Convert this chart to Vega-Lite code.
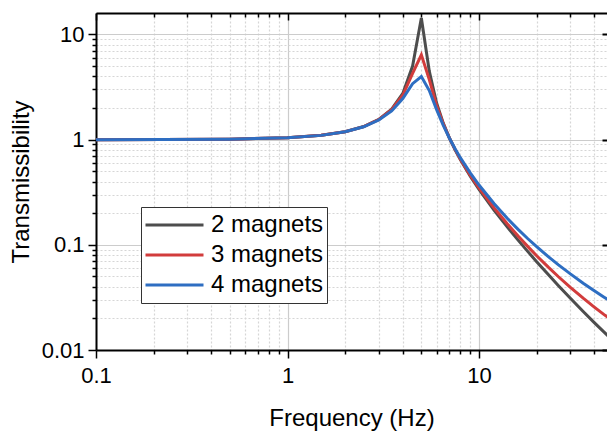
{
  "$schema": "https://vega.github.io/schema/vega-lite/v6.json",
  "width": 511,
  "height": 337,
  "autosize": {"type": "none"},
  "padding": {"left": 96, "top": 13, "right": 0, "bottom": 82},
  "background": "white",
  "config": {"view": {"stroke": null}, "font": "Liberation Sans"},
  "datasets": {
    "curves": [
      {"f": 0.1, "series": "2 magnets", "T": 1.0},
      {"f": 0.5, "series": "2 magnets", "T": 1.010},
      {"f": 1, "series": "2 magnets", "T": 1.042},
      {"f": 1.5, "series": "2 magnets", "T": 1.099},
      {"f": 2, "series": "2 magnets", "T": 1.190},
      {"f": 2.5, "series": "2 magnets", "T": 1.333},
      {"f": 3, "series": "2 magnets", "T": 1.561},
      {"f": 3.5, "series": "2 magnets", "T": 1.954},
      {"f": 4, "series": "2 magnets", "T": 2.749},
      {"f": 4.5, "series": "2 magnets", "T": 5.006},
      {"f": 5, "series": "2 magnets", "T": 14.32},
      {"f": 5.5, "series": "2 magnets", "T": 4.484},
      {"f": 6, "series": "2 magnets", "T": 2.240},
      {"f": 6.5, "series": "2 magnets", "T": 1.443},
      {"f": 7, "series": "2 magnets", "T": 1.041},
      {"f": 7.5, "series": "2 magnets", "T": 0.8016},
      {"f": 8, "series": "2 magnets", "T": 0.6434},
      {"f": 9, "series": "2 magnets", "T": 0.4492},
      {"f": 10, "series": "2 magnets", "T": 0.3362},
      {"f": 12, "series": "2 magnets", "T": 0.2129},
      {"f": 14, "series": "2 magnets", "T": 0.1489},
      {"f": 16, "series": "2 magnets", "T": 0.1109},
      {"f": 18, "series": "2 magnets", "T": 0.0862},
      {"f": 20, "series": "2 magnets", "T": 0.0692},
      {"f": 23, "series": "2 magnets", "T": 0.0521},
      {"f": 26, "series": "2 magnets", "T": 0.0409},
      {"f": 30, "series": "2 magnets", "T": 0.0310},
      {"f": 35, "series": "2 magnets", "T": 0.0232},
      {"f": 40, "series": "2 magnets", "T": 0.0182},
      {"f": 45, "series": "2 magnets", "T": 0.0148},
      {"f": 50, "series": "2 magnets", "T": 0.0123},
      {"f": 0.1, "series": "3 magnets", "T": 1.0},
      {"f": 0.5, "series": "3 magnets", "T": 1.010},
      {"f": 1, "series": "3 magnets", "T": 1.042},
      {"f": 1.5, "series": "3 magnets", "T": 1.099},
      {"f": 2, "series": "3 magnets", "T": 1.190},
      {"f": 2.5, "series": "3 magnets", "T": 1.330},
      {"f": 3, "series": "3 magnets", "T": 1.553},
      {"f": 3.5, "series": "3 magnets", "T": 1.928},
      {"f": 4, "series": "3 magnets", "T": 2.642},
      {"f": 4.5, "series": "3 magnets", "T": 4.256},
      {"f": 5, "series": "3 magnets", "T": 6.408},
      {"f": 5.5, "series": "3 magnets", "T": 3.723},
      {"f": 6, "series": "3 magnets", "T": 2.124},
      {"f": 6.5, "series": "3 magnets", "T": 1.418},
      {"f": 7, "series": "3 magnets", "T": 1.040},
      {"f": 7.5, "series": "3 magnets", "T": 0.8078},
      {"f": 8, "series": "3 magnets", "T": 0.6527},
      {"f": 9, "series": "3 magnets", "T": 0.4604},
      {"f": 10, "series": "3 magnets", "T": 0.3477},
      {"f": 12, "series": "3 magnets", "T": 0.2240},
      {"f": 14, "series": "3 magnets", "T": 0.1595},
      {"f": 16, "series": "3 magnets", "T": 0.1211},
      {"f": 18, "series": "3 magnets", "T": 0.0961},
      {"f": 20, "series": "3 magnets", "T": 0.0788},
      {"f": 23, "series": "3 magnets", "T": 0.0613},
      {"f": 26, "series": "3 magnets", "T": 0.0497},
      {"f": 30, "series": "3 magnets", "T": 0.0394},
      {"f": 35, "series": "3 magnets", "T": 0.0311},
      {"f": 40, "series": "3 magnets", "T": 0.0256},
      {"f": 45, "series": "3 magnets", "T": 0.0217},
      {"f": 50, "series": "3 magnets", "T": 0.0189},
      {"f": 0.1, "series": "4 magnets", "T": 1.0},
      {"f": 0.5, "series": "4 magnets", "T": 1.010},
      {"f": 1, "series": "4 magnets", "T": 1.042},
      {"f": 1.5, "series": "4 magnets", "T": 1.098},
      {"f": 2, "series": "4 magnets", "T": 1.188},
      {"f": 2.5, "series": "4 magnets", "T": 1.325},
      {"f": 3, "series": "4 magnets", "T": 1.536},
      {"f": 3.5, "series": "4 magnets", "T": 1.877},
      {"f": 4, "series": "4 magnets", "T": 2.457},
      {"f": 4.5, "series": "4 magnets", "T": 3.407},
      {"f": 5, "series": "4 magnets", "T": 3.974},
      {"f": 5.5, "series": "4 magnets", "T": 2.931},
      {"f": 6, "series": "4 magnets", "T": 1.942},
      {"f": 6.5, "series": "4 magnets", "T": 1.374},
      {"f": 7, "series": "4 magnets", "T": 1.037},
      {"f": 7.5, "series": "4 magnets", "T": 0.8197},
      {"f": 8, "series": "4 magnets", "T": 0.6708},
      {"f": 9, "series": "4 magnets", "T": 0.4825},
      {"f": 10, "series": "4 magnets", "T": 0.3702},
      {"f": 12, "series": "4 magnets", "T": 0.2455},
      {"f": 14, "series": "4 magnets", "T": 0.1798},
      {"f": 16, "series": "4 magnets", "T": 0.1402},
      {"f": 18, "series": "4 magnets", "T": 0.1142},
      {"f": 20, "series": "4 magnets", "T": 0.0960},
      {"f": 23, "series": "4 magnets", "T": 0.0772},
      {"f": 26, "series": "4 magnets", "T": 0.0645},
      {"f": 30, "series": "4 magnets", "T": 0.0529},
      {"f": 35, "series": "4 magnets", "T": 0.0432},
      {"f": 40, "series": "4 magnets", "T": 0.0366},
      {"f": 45, "series": "4 magnets", "T": 0.0318},
      {"f": 50, "series": "4 magnets", "T": 0.0281}
    ]
  },
  "data": {"name": "curves"},
  "resolve": {"axis": {"x": "independent", "y": "independent"}},
  "layer": [
    {
      "mark": {"type": "line", "strokeWidth": 3, "clip": true},
      "encoding": {
        "x": {
          "field": "f", "type": "quantitative",
          "scale": {"type": "log", "domain": [0.1, 46.6], "nice": false},
          "axis": {
            "orient": "bottom",
            "title": "Frequency (Hz)",
            "titleFont": "Liberation Sans", "titleFontSize": 24, "titleFontWeight": "normal", "titleColor": "black", "titlePadding": 20,
            "values": [0.1,0.2,0.3,0.4,0.5,0.6,0.7,0.8,0.9,1,2,3,4,5,6,7,8,9,10,20,30,40],
            "labelExpr": "abs(log(datum.value)/LN10 - round(log(datum.value)/LN10)) < 0.000001 ? format(datum.value, '~g') : ''",
            "labelFont": "Liberation Sans", "labelFontSize": 22, "labelColor": "black", "labelOverlap": false, "labelBound": false, "labelFlush": false, "labelPadding": 7,
            "domainColor": "black", "domainWidth": 2,
            "tickColor": "black", "tickWidth": 1.5,
            "tickSize": {"condition": {"test": "abs(log(datum.value)/LN10 - round(log(datum.value)/LN10)) < 0.000001", "value": 8}, "value": 4},
            "grid": true,
            "gridColor": {"condition": {"test": "abs(log(datum.value)/LN10 - round(log(datum.value)/LN10)) < 0.000001", "value": "#cccccc"}, "value": "#d6d6d6"},
            "gridDash": {"condition": {"test": "abs(log(datum.value)/LN10 - round(log(datum.value)/LN10)) < 0.000001", "value": []}, "value": [2, 2]},
            "gridWidth": 1.2
          }
        },
        "y": {
          "field": "T", "type": "quantitative",
          "scale": {"type": "log", "domain": [0.01, 16], "nice": false},
          "axis": {
            "orient": "left",
            "title": "Transmissibility",
            "titleFont": "Liberation Sans", "titleFontSize": 24, "titleFontWeight": "normal", "titleColor": "black", "titlePadding": 8,
            "values": [0.01,0.02,0.03,0.04,0.05,0.06,0.07,0.08,0.09,0.1,0.2,0.3,0.4,0.5,0.6,0.7,0.8,0.9,1,2,3,4,5,6,7,8,9,10],
            "labelExpr": "abs(log(datum.value)/LN10 - round(log(datum.value)/LN10)) < 0.000001 ? format(datum.value, '~g') : ''",
            "labelFont": "Liberation Sans", "labelFontSize": 22, "labelColor": "black", "labelOverlap": false, "labelBound": false, "labelFlush": false, "labelPadding": 4,
            "domainColor": "black", "domainWidth": 2,
            "tickColor": "black", "tickWidth": 1.5,
            "tickSize": {"condition": {"test": "abs(log(datum.value)/LN10 - round(log(datum.value)/LN10)) < 0.000001", "value": 8}, "value": 4},
            "grid": true,
            "gridColor": {"condition": {"test": "abs(log(datum.value)/LN10 - round(log(datum.value)/LN10)) < 0.000001", "value": "#cccccc"}, "value": "#d6d6d6"},
            "gridDash": {"condition": {"test": "abs(log(datum.value)/LN10 - round(log(datum.value)/LN10)) < 0.000001", "value": []}, "value": [2, 2]},
            "gridWidth": 1.2
          }
        },
        "color": {
          "field": "series", "type": "nominal",
          "scale": {"domain": ["2 magnets", "3 magnets", "4 magnets"], "range": ["#4d4d4d", "#d23c3c", "#2e6ec2"]},
          "legend": {
            "orient": "none", "legendX": 45, "legendY": 194,
            "title": null,
            "symbolType": "stroke", "symbolSize": 3364, "symbolStrokeWidth": 3,
            "clipHeight": 30,
            "labelFont": "Liberation Sans", "labelFontSize": 24, "labelColor": "black", "labelOffset": 6,
            "strokeColor": "#333333", "fillColor": "white", "padding": 3, "rowPadding": 0
          }
        }
      }
    },
    {
      "mark": {"type": "line", "strokeOpacity": 0, "clip": true},
      "encoding": {
        "x": {
          "field": "f", "type": "quantitative",
          "axis": {
            "orient": "top", "title": null, "labels": false, "grid": false,
            "values": [0.1,0.2,0.3,0.4,0.5,0.6,0.7,0.8,0.9,1,2,3,4,5,6,7,8,9,10,20,30,40],
            "domainColor": "black", "domainWidth": 2,
            "tickColor": "black", "tickWidth": 1.5,
            "tickSize": {"condition": {"test": "abs(log(datum.value)/LN10 - round(log(datum.value)/LN10)) < 0.000001", "value": -7}, "value": -4}
          }
        },
        "y": {
          "field": "T", "type": "quantitative",
          "axis": {
            "orient": "right", "title": null, "labels": false, "grid": false, "domain": false,
            "values": [0.01, 0.1, 1, 10],
            "tickColor": "black", "tickWidth": 2, "tickSize": -5
          }
        },
        "detail": {"field": "series"}
      }
    }
  ]
}
